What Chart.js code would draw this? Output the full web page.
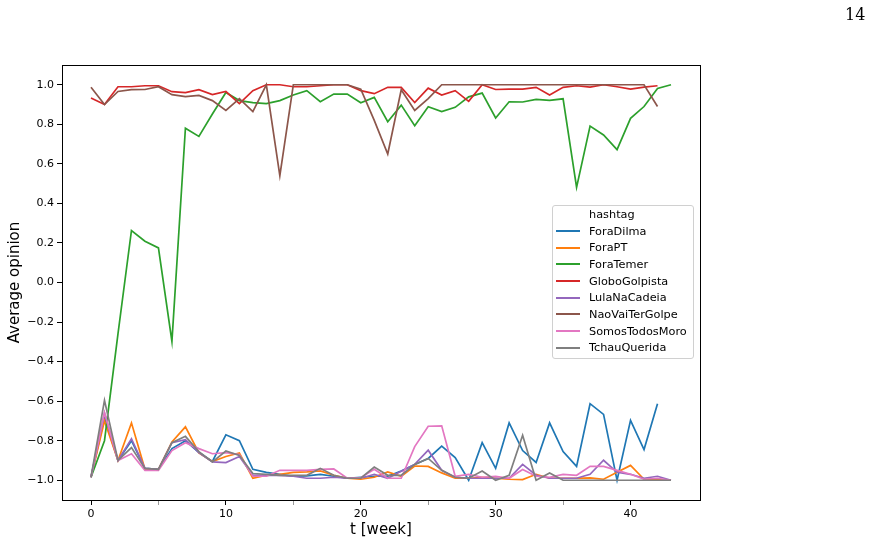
<!DOCTYPE html>
<html>
<head>
<meta charset="utf-8">
<script src="https://cdn.jsdelivr.net/npm/chart.js@4.4.1/dist/chart.umd.min.js"></script>
<style>
  body { margin: 0; background: #fff; }
  #wrap { position: relative; width: 869px; height: 544px; font-family: "DejaVu Sans", sans-serif; }
  #page { position: absolute; left: 845px; top: 5px; font-family: "DejaVu Serif", serif; font-size: 16px; color: #000; }
  #legend {
    position: absolute; left: 552px; top: 205px; width: 140px;
    border: 1px solid #d0d0d0; border-radius: 3px; background: rgba(255,255,255,0.8);
    font-size: 11.3px; color: #000; padding-bottom: 2px;
  }
  #legend .row { display: flex; align-items: center; height: 16.7px; }
  #legend .swatch { display: inline-block; width: 24px; height: 2px; margin-left: 3px; margin-right: 9px; }
  #legend .blank { display: inline-block; width: 24px; margin-left: 3px; margin-right: 9px; }
</style>
</head>
<body>
<div id="wrap">
  <canvas id="chart" width="869" height="544"></canvas>
  <div id="page">14</div>
  <div id="legend"></div>
</div>
<script>
// 週次 (x軸)
const weeks = [0,1,2,3,4,5,6,7,8,9,10,11,12,13,14,15,16,17,18,19,20,21,22,23,24,25,26,27,28,29,30,31,32,33,34,35,36,37,38,39,40,41,42,43];

// 各hashtag的平均意見
const foraDilma = [-0.985,-0.68,-0.90,-0.80,-0.94,-0.945,-0.84,-0.80,-0.86,-0.905,-0.77,-0.80,-0.945,-0.96,-0.97,-0.98,-0.978,-0.97,-0.98,-0.99,-0.985,-0.98,-0.98,-0.953,-0.92,-0.89,-0.827,-0.885,-1.0,-0.81,-0.94,-0.71,-0.85,-0.91,-0.71,-0.855,-0.93,-0.613,-0.667,-1.0,-0.697,-0.845,-0.613];
const foraPT = [-0.985,-0.70,-0.90,-0.71,-0.945,-0.945,-0.806,-0.73,-0.862,-0.905,-0.88,-0.862,-0.99,-0.975,-0.97,-0.96,-0.958,-0.953,-0.975,-0.99,-0.995,-0.985,-0.958,-0.98,-0.928,-0.93,-0.963,-0.99,-0.99,-0.985,-0.99,-0.995,-0.997,-0.97,-0.99,-0.99,-0.99,-0.988,-0.995,-0.96,-0.925,-0.995,-0.995,-1.0];
const foraTemer = [-0.985,-0.80,-0.26,0.263,0.209,0.175,-0.298,0.78,0.739,0.852,0.961,0.92,0.91,0.905,0.92,0.948,0.97,0.914,0.953,0.953,0.909,0.936,0.813,0.897,0.793,0.889,0.864,0.886,0.939,0.958,0.832,0.914,0.913,0.926,0.921,0.929,0.481,0.791,0.746,0.672,0.83,0.89,0.981,1.0];
const globoGolpista = [0.933,0.90,0.99,0.99,0.995,0.995,0.965,0.96,0.975,0.95,0.966,0.905,0.97,1.0,1.0,0.99,0.99,0.995,1.0,1.0,0.97,0.955,0.987,0.987,0.91,0.983,0.948,0.97,0.916,1.0,0.976,0.978,0.978,0.987,0.948,0.987,0.995,0.988,1.0,0.99,0.978,0.988,0.995];
const lulaNaCadeia = [-0.985,-0.66,-0.90,-0.79,-0.94,-0.945,-0.81,-0.795,-0.86,-0.907,-0.911,-0.88,-0.975,-0.975,-0.975,-0.98,-0.99,-0.99,-0.985,-0.99,-0.99,-0.97,-0.99,-0.955,-0.92,-0.848,-0.95,-0.985,-0.99,-0.99,-0.99,-0.99,-0.92,-0.975,-0.99,-0.99,-0.99,-0.97,-0.899,-0.96,-0.97,-0.99,-0.98,-1.0];
const naoVaiTerGolpe = [0.987,0.90,0.966,0.975,0.976,0.99,0.95,0.94,0.946,0.92,0.87,0.93,0.864,1.0,0.54,1.0,1.0,1.0,1.0,1.0,0.978,0.82,0.65,0.975,0.87,0.93,1.0,1.0,1.0,1.0,1.0,1.0,1.0,1.0,1.0,1.0,1.0,1.0,1.0,1.0,1.0,1.0,0.89];
const somosTodosMoro = [-0.985,-0.658,-0.90,-0.866,-0.95,-0.95,-0.85,-0.81,-0.84,-0.866,-0.86,-0.87,-0.98,-0.98,-0.95,-0.95,-0.95,-0.945,-0.943,-0.99,-0.987,-0.945,-0.99,-0.99,-0.83,-0.727,-0.725,-0.98,-0.97,-0.985,-0.98,-0.99,-0.946,-0.98,-0.985,-0.97,-0.975,-0.93,-0.93,-0.95,-0.97,-0.995,-0.99,-1.0];
const tchauQuerida = [-0.985,-0.596,-0.90,-0.835,-0.94,-0.945,-0.81,-0.778,-0.855,-0.907,-0.852,-0.875,-0.966,-0.97,-0.975,-0.975,-0.975,-0.94,-0.975,-0.99,-0.99,-0.933,-0.975,-0.975,-0.92,-0.89,-0.95,-0.985,-0.99,-0.953,-1.0,-0.975,-0.773,-1.0,-0.963,-1.0,-1.0,-1.0,-1.0,-1.0,-1.0,-1.0,-1.0,-1.0];

const names = ['ForaDilma','ForaPT','ForaTemer','GloboGolpista','LulaNaCadeia','NaoVaiTerGolpe','SomosTodosMoro','TchauQuerida'];
const series = [foraDilma, foraPT, foraTemer, globoGolpista, lulaNaCadeia, naoVaiTerGolpe, somosTodosMoro, tchauQuerida];
const colors = ['#1f77b4','#ff7f0e','#2ca02c','#d62728','#9467bd','#8c564b','#e377c2','#7f7f7f'];

// 刻度
const xTicks = [0,5,10,15,20,25,30,35,40];
const yTicks = [-1.0,-0.8,-0.6,-0.4,-0.2,0.0,0.2,0.4,0.6,0.8,1.0];

document.addEventListener('DOMContentLoaded', function() {

  const datasets = names.map((name, i) => ({
    label: name,
    data: series[i].map((v, j) => ({ x: weeks[j], y: v })),
    borderColor: colors[i],
    backgroundColor: colors[i],
    borderWidth: 1.7,
    pointRadius: 0,
    fill: false,
    tension: 0,
    order: names.length - i   // 後面的線畫在上層
  }));

  // 畫四周的框線
  const frame = {
    id: 'frame',
    afterDraw(chart) {
      const a = chart.chartArea;
      const c = chart.ctx;
      c.save();
      c.strokeStyle = '#000';
      c.lineWidth = 1;
      c.strokeRect(Math.round(a.left) + 0.5, Math.round(a.top) + 0.5, Math.round(a.right - a.left), Math.round(a.bottom - a.top));
      c.restore();
    }
  };

  const tickFont = { family: 'DejaVu Sans', size: 11 };
  const titleFont = { family: 'DejaVu Sans', size: 15 };

  const config = {
    type: 'line',
    data: { datasets: datasets },
    options: {
      responsive: false,
      animation: false,
      layout: { padding: { left: 2, top: 65, right: 169, bottom: 0 } },
      plugins: {
        legend: { display: false },
        tooltip: { enabled: false }
      },
      scales: {
        x: {
          type: 'linear',
          min: -2.15,
          max: 45.15,
          afterBuildTicks: s => { s.ticks = xTicks.map(v => ({ value: v })); },
          afterFit: s => { s.height = 44; },
          ticks: {
            autoSkip: false,
            maxRotation: 0,
            color: '#000',
            font: tickFont,
            padding: 3,
            callback: v => (v % 10 === 0 ? String(v) : '')
          },
          grid: {
            drawOnChartArea: false,
            tickLength: 5,
            color: ctx => (ctx.tick && ctx.tick.value % 10 !== 0 ? '#999' : '#000')
          },
          border: { display: true, color: '#000', width: 1 },
          title: { display: true, text: 't [week]', color: '#000', font: titleFont, padding: { top: 2, bottom: 5 } }
        },
        y: {
          type: 'linear',
          min: -1.1,
          max: 1.1,
          afterBuildTicks: s => { s.ticks = yTicks.map(v => ({ value: v })); },
          afterFit: s => { s.width = 60; },
          ticks: {
            color: '#000',
            font: tickFont,
            padding: 3,
            callback: v => v.toFixed(1).replace('-', '\u2212')
          },
          grid: { drawOnChartArea: false, tickLength: 5, color: '#000' },
          border: { display: true, color: '#000', width: 1 },
          title: { display: true, text: 'Average opinion', color: '#000', font: titleFont, padding: { top: 4, bottom: 4 } }
        }
      }
    },
    plugins: [frame]
  };

  const ctx = document.getElementById('chart').getContext('2d');
  const myChart = new Chart(ctx, config);

  // 圖例 (放在圖內右側)
  const legend = document.getElementById('legend');
  let html = '<div class="row"><span class="blank"></span>hashtag</div>';
  names.forEach((n, i) => {
    html += '<div class="row"><span class="swatch" style="background:' + colors[i] + '"></span>' + n + '</div>';
  });
  legend.innerHTML = html;
});
</script>
</body>
</html>
